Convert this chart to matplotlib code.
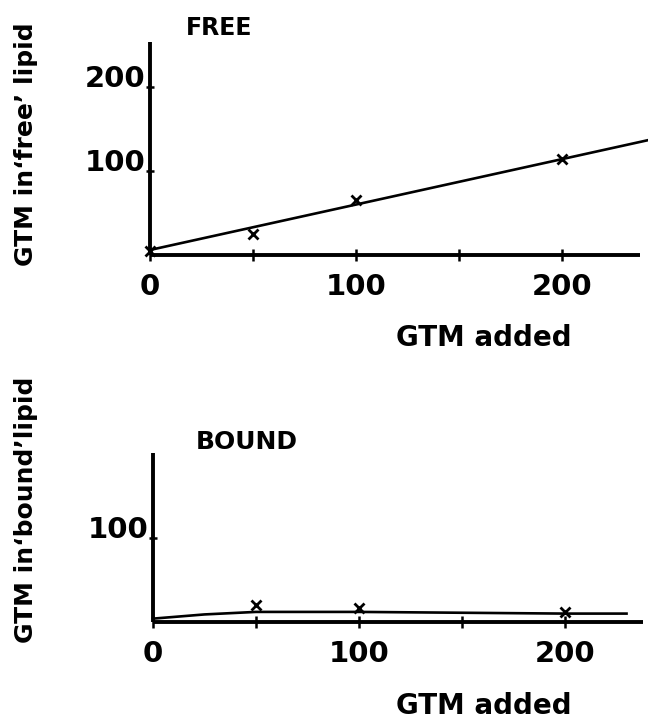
import matplotlib
matplotlib.use("Agg")
import matplotlib.pyplot as plt
from matplotlib.ticker import FixedLocator

# ---- data ----
free_x = [0, 50, 100, 200]
free_y = [5, 25, 65, 115]
free_fit_x = [0, 242]
free_fit_y = [6, 137]

bound_x = [50, 100, 200]
bound_y = [20, 17, 12]
bound_curve_x = [0, 25, 50, 100, 150, 200, 230]
bound_curve_y = [4, 9, 12, 12, 11, 10, 10]

x_major = [0, 100, 200]
x_minor = [50, 150]
free_yticks = [100, 200]
bound_yticks = [100]

W, H = 648, 719
fig = plt.figure(figsize=(W / 100, H / 100), dpi=100)
plt.rcParams['font.family'] = ['DejaVu Sans']

def px_axes(left, top, right, bottom):
    return fig.add_axes([left / W, (H - bottom) / H, (right - left) / W, (bottom - top) / H])

def style(ax, xlim, ylim, yticks):
    ax.set_xlim(*xlim)
    ax.set_ylim(*ylim)
    for s in ("top", "right"):
        ax.spines[s].set_visible(False)
    for s in ("left", "bottom"):
        ax.spines[s].set_linewidth(2.8)
        ax.spines[s].set_capstyle("butt")
    ax.xaxis.set_major_locator(FixedLocator(x_major))
    ax.xaxis.set_minor_locator(FixedLocator(x_minor))
    ax.set_xticklabels([str(v) for v in x_major])
    ax.set_yticks(yticks)
    ax.set_yticklabels([str(v) for v in yticks])
    ax.tick_params(axis="x", which="both", direction="inout", length=8, width=1.8,
                   labelsize=21, pad=9)
    ax.tick_params(axis="y", which="both", direction="inout", length=6, width=1.8,
                   labelsize=21, pad=0)
    for lab in ax.get_xticklabels() + ax.get_yticklabels():
        lab.set_fontweight("bold")
    for lab in ax.get_yticklabels():
        lab.set_va("baseline")
    ax.patch.set_alpha(0)

# ---- top panel: FREE ----
ax1 = px_axes(150, 42, 640, 255)
style(ax1, (0, 238), (0, 254), free_yticks)
ax1.plot(free_fit_x, free_fit_y, color="black", lw=1.9, clip_on=False)
ax1.plot(free_x, free_y, linestyle="none", marker="x", color="black",
         markersize=7.5, mew=2.0, clip_on=False)

# ---- bottom panel: BOUND ----
ax2 = px_axes(153, 453, 643, 622)
style(ax2, (0, 238), (0, 201), bound_yticks)
ax2.plot(bound_curve_x, bound_curve_y, color="black", lw=1.9, clip_on=False)
ax2.plot(bound_x, bound_y, linestyle="none", marker="x", color="black",
         markersize=7.5, mew=2.0, clip_on=False)

# ---- texts ----
fig.text(219 / W, 1 - 28 / H, "FREE", ha="center", va="center",
         fontsize=17, fontweight="bold")
fig.text(247 / W, 1 - 442 / H, "BOUND", ha="center", va="center",
         fontsize=18, fontweight="bold")
fig.text(484 / W, 1 - 338 / H, "GTM added", ha="center", va="center",
         fontsize=20, fontweight="bold")
fig.text(484 / W, 1 - 706 / H, "GTM added", ha="center", va="center",
         fontsize=20, fontweight="bold")
fig.text(26 / W, 1 - 144 / H, "GTM in\u2018free\u2019 lipid", rotation=90,
         ha="center", va="center", fontsize=18, fontweight="bold")
fig.text(26 / W, 1 - 510 / H, "GTM in\u2018bound\u2019lipid", rotation=90,
         ha="center", va="center", fontsize=18, fontweight="bold")

fig.savefig("out.png", dpi=100)
